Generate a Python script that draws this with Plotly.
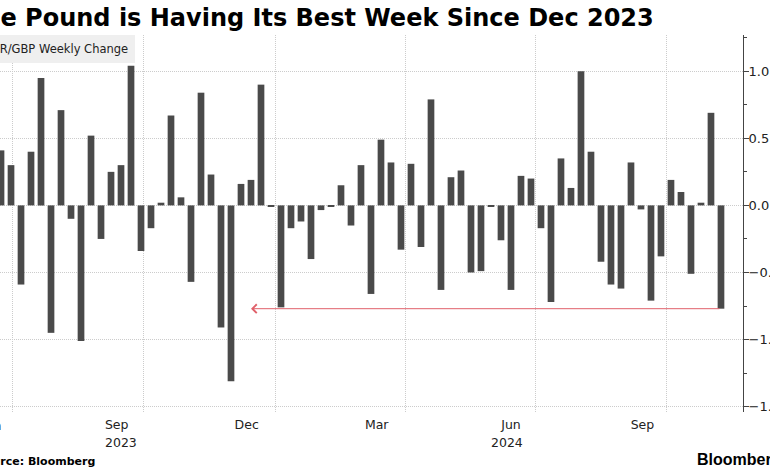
import pandas as pd
import plotly.graph_objects as go

# chart text
title_text = "The Pound is Having Its Best Week Since Dec 2023"
series_name = "EUR/GBP Weekly Change"
source_text = "Source: Bloomberg"
brand_text = "Bloomberg"

# weekly EUR/GBP % change, one bar per week (Friday close)
week_ending = pd.date_range("2023-06-23", periods=73, freq="W-FRI")
weekly_change = [
    0.41, 0.30, -0.59, 0.40, 0.95, -0.95, 0.71, -0.10, -1.01, 0.52,
    -0.25, 0.25, 0.30, 1.04, -0.34, -0.17, 0.02, 0.67, 0.06, -0.57,
    0.84, 0.23, -0.91, -1.31, 0.16, 0.19, 0.90, -0.005, -0.76, -0.17,
    -0.12, -0.40, -0.035, -0.005, 0.15, -0.15, 0.30, -0.66, 0.49, 0.32,
    -0.33, 0.31, -0.31, 0.79, -0.63, 0.21, 0.26, -0.50, -0.49, -0.005,
    -0.26, -0.63, 0.22, 0.20, -0.17, -0.72, 0.35, 0.13, 1.00, 0.40,
    -0.42, -0.59, -0.62, 0.32, -0.03, -0.71, -0.38, 0.19, 0.10, -0.51,
    0.02, 0.69, -0.77,
]

# x axis labels: months in mid-month, years under them
month_tick_dates = ["2023-09-12", "2023-12-12", "2024-03-12", "2024-06-14", "2024-09-14"]
month_tick_text = ["Sep", "Dec", "Mar", "Jun", "Sep"]
year_label_dates = ["2023-09-15", "2024-06-11"]
year_label_text = ["2023", "2024"]
quarter_starts = ["2023-07-01", "2023-10-01", "2024-01-01", "2024-04-01", "2024-07-01", "2024-10-01"]
x_range = ["2023-06-22 07:00", "2024-11-23 10:00"]
y_range = [-1.54, 1.27]

# red arrow: this week's drop back to the last bigger one
arrow_from = week_ending[-1]
arrow_to = "2023-12-15"
arrow_level = weekly_change[-1]

W, H = 770, 470
ML, MR, MT, MB = 0, 27, 35, 58
PW = W - ML - MR
PH = H - MT - MB


def px_x(px):
    return (px - ML) / PW


def px_y(py):
    return 1 - (py - MT) / PH


font = "DejaVu Sans"
grid = "#cccccc"
ink = "#222"

fig = go.Figure()
fig.add_trace(go.Bar(
    x=week_ending, y=weekly_change, name=series_name,
    marker=dict(color="#4a4a4a", line=dict(width=0)),
    showlegend=False,
))

fig.update_layout(
    width=W, height=H,
    margin=dict(l=ML, r=MR, t=MT, b=MB),
    paper_bgcolor="white", plot_bgcolor="white",
    bargap=0.33,
    font=dict(family=font, size=12.5, color=ink),
    xaxis=dict(
        type="date", range=x_range,
        tickmode="array", tickvals=month_tick_dates, ticktext=month_tick_text,
        ticks="", ticklabelstandoff=3, showgrid=False, zeroline=False, showline=False,
        tickfont=dict(family=font, size=12.5, color=ink),
        minor=dict(tickmode="array", tickvals=quarter_starts, showgrid=True,
                   gridcolor=grid, griddash="1px,1px", gridwidth=1, ticks=""),
        automargin=False,
    ),
    yaxis=dict(
        side="right", range=y_range,
        tick0=0, dtick=0.5, tickformat=".1f",
        ticks="outside", ticklen=5, tickcolor="#444", tickwidth=1,
        ticklabelstandoff=-3,
        showline=True, linecolor="#444", linewidth=1,
        showgrid=True, gridcolor=grid, griddash="1px,1px", gridwidth=1,
        zeroline=False,
        minor=dict(dtick=0.25, tick0=0, ticks="outside", ticklen=3,
                   tickcolor="#444", showgrid=False),
        tickfont=dict(family=font, size=13, color=ink),
        automargin=False,
    ),
)

annotations = [
    # title, left part runs off the picture
    dict(text="<b>" + title_text + "</b>", xref="paper", yref="paper",
         x=px_x(-35.5), y=px_y(18), xanchor="left", yanchor="middle",
         showarrow=False, font=dict(family=font, size=24, color="#000")),
    # series label box
    dict(text=series_name, xref="paper", yref="paper",
         x=px_x(135), y=px_y(48.5), xanchor="right", yanchor="middle",
         showarrow=False, bgcolor="#efefef", borderpad=7, borderwidth=0,
         font=dict(family=font, size=11.5, color=ink)),
    # month label cut at the left edge
    dict(text="Jun", xref="paper", yref="paper",
         x=px_x(-9), y=px_y(425), xanchor="center", yanchor="middle",
         showarrow=False, font=dict(family=font, size=12.5, color=ink)),
    dict(text="<b>" + source_text + "</b>", xref="paper", yref="paper",
         x=px_x(-25.3), y=px_y(461), xanchor="left", yanchor="middle",
         showarrow=False, font=dict(family=font, size=11, color="#000")),
    dict(text="<b>" + brand_text + "</b>", xref="paper", yref="paper",
         x=px_x(695), y=px_y(459), xanchor="left", yanchor="middle",
         showarrow=False, font=dict(family="Liberation Sans", size=16, color="#000")),
    # red arrow
    dict(text="", x=arrow_to, y=arrow_level, ax=arrow_from, ay=arrow_level,
         xref="x", yref="y", axref="x", ayref="y",
         showarrow=True, arrowhead=4, arrowsize=1.7, arrowwidth=1,
         arrowcolor="#e0606a", standoff=0, startstandoff=0),
]
for d, t in zip(year_label_dates, year_label_text):
    annotations.append(dict(text=t, xref="x", yref="paper", x=d, y=px_y(442),
                            xanchor="center", yanchor="middle", showarrow=False,
                            font=dict(family=font, size=12.5, color=ink)))
fig.update_layout(annotations=annotations)

# page has a default 8px body margin; drop it so the figure sits at 0,0
fig.write_html("out.html", config={"displayModeBar": False},
               post_script="document.body.style.margin = '0px';")
